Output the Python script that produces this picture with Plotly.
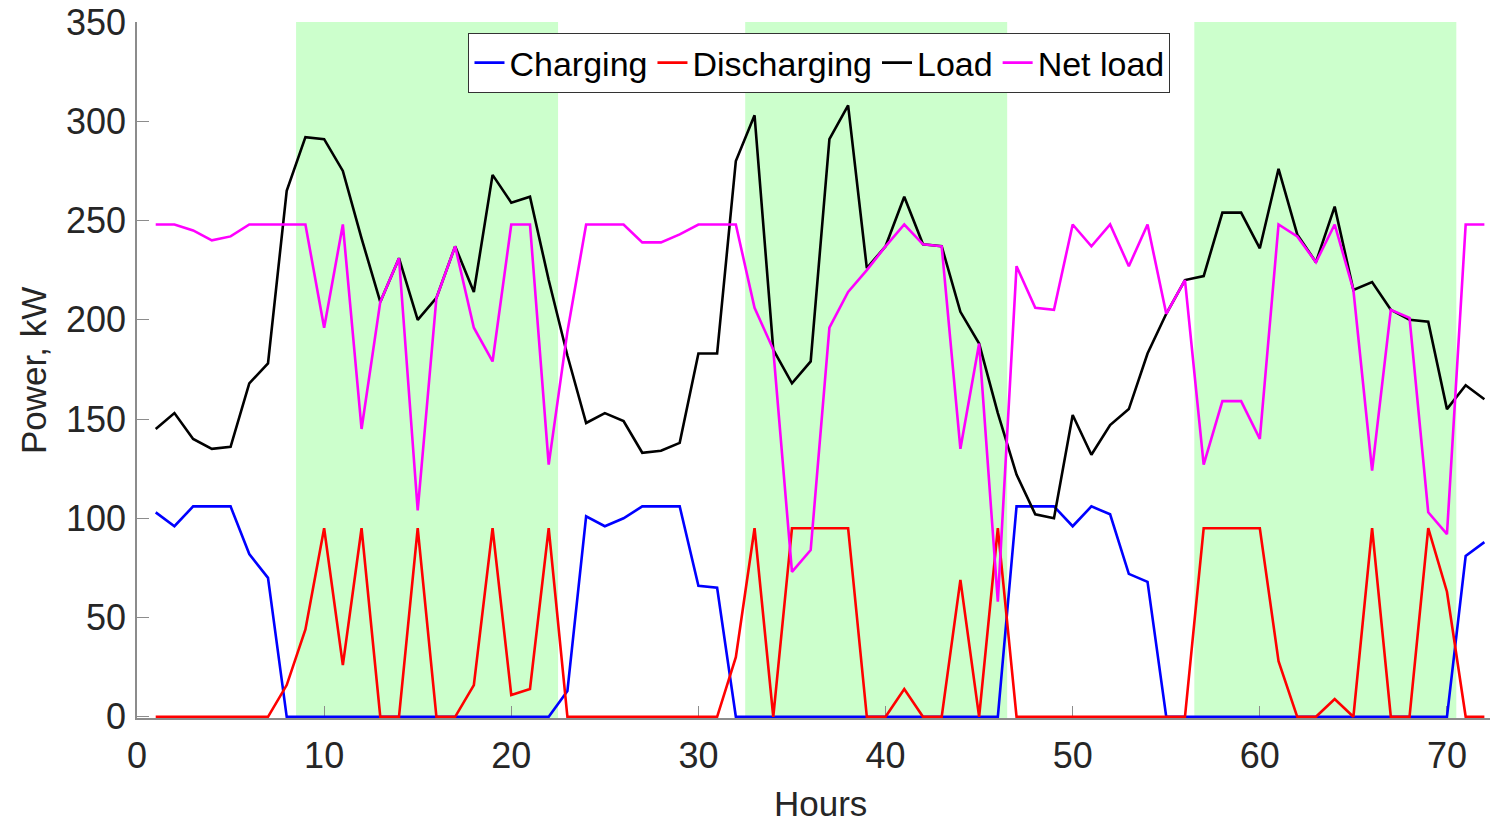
import plotly.graph_objects as go

# Hourly power profile over three days (hours 1..72), kW
hours = list(range(1, 73))

load = [145, 153, 140, 135, 136, 168, 178, 265, 292, 291, 275, 241,
        209, 231, 200, 211, 237, 214, 273, 259, 262, 220, 182, 148,
        153, 149, 133, 134, 138, 183, 183, 280, 303, 185, 168, 179,
        291, 308, 226, 237, 262, 238, 237, 204, 188, 153, 122, 102,
        100, 152, 132, 147, 155, 183, 203, 220, 222, 254, 254, 236,
        276, 243, 229, 257, 215, 219, 205, 200, 199, 155, 167, 160]

charging = [103, 96, 106, 106, 106, 82, 70, 0, 0, 0, 0, 0,
            0, 0, 0, 0, 0, 0, 0, 0, 0, 0, 13, 101,
            96, 100, 106, 106, 106, 66, 65, 0, 0, 0, 0, 0,
            0, 0, 0, 0, 0, 0, 0, 0, 0, 0, 106, 106,
            106, 96, 106, 102, 72, 68, 0, 0, 0, 0, 0, 0,
            0, 0, 0, 0, 0, 0, 0, 0, 0, 0, 81, 88]

discharging = [0, 0, 0, 0, 0, 0, 0, 16, 44, 95, 26, 95,
               0, 0, 95, 0, 0, 16, 95, 11, 14, 95, 0, 0,
               0, 0, 0, 0, 0, 0, 0, 30, 95, 0, 95, 95,
               95, 95, 0, 0, 14, 0, 0, 69, 0, 95, 0, 0,
               0, 0, 0, 0, 0, 0, 0, 0, 95, 95, 95, 95,
               28, 0, 0, 9, 0, 95, 0, 0, 95, 63, 0, 0]

net_load = [248, 248, 245, 240, 242, 248, 248, 248, 248, 196, 248, 145,
            209, 231, 104, 211, 237, 196, 179, 248, 248, 127, 194, 248,
            248, 248, 239, 239, 243, 248, 248, 248, 206, 185, 73, 84,
            196, 214, 225, 237, 248, 238, 237, 135, 188, 58, 227, 206,
            205, 248, 237, 248, 227, 248, 203, 220, 127, 159, 159, 140,
            248, 242, 229, 248, 215, 124, 205, 201, 103, 92, 248, 248]

# Peak-tariff windows highlighted in green (start, end hour)
peak_windows = [(8.5, 22.5), (32.5, 46.5), (56.5, 70.5)]

FONT = "Liberation Sans, Arial, sans-serif"
TEXT = "#262626"
AXIS = "#8c8c8c"

fig = go.Figure()

series = [
    ("Charging", charging, "#0000ff"),
    ("Discharging", discharging, "#ff0000"),
    ("Load", load, "#000000"),
    ("Net load", net_load, "#ff00ff"),
]
for name, vals, color in series:
    fig.add_trace(go.Scatter(
        x=hours, y=vals, mode="lines", name=name,
        line=dict(color=color, width=2.6),
    ))

for x0, x1 in peak_windows:
    fig.add_shape(type="rect", xref="x", yref="paper",
                  x0=x0, x1=x1, y0=0, y1=1,
                  fillcolor="#ccffcc", line=dict(width=0),
                  layer="between")

fig.update_layout(
    width=1490, height=827,
    margin=dict(l=137, r=0, t=22, b=109, autoexpand=False),
    paper_bgcolor="white", plot_bgcolor="white",
    font=dict(family=FONT, size=34, color=TEXT),
    showlegend=True,
    legend=dict(
        orientation="h", x=0.245, y=(718 - 33) / 696,
        xanchor="left", yanchor="top",
        bgcolor="white", bordercolor="#333333", borderwidth=1,
        font=dict(family=FONT, size=34, color="#000000"),
        itemwidth=30, tracegroupgap=0, itemclick=False,
    ),
    xaxis=dict(
        range=[0, 72.3], tickmode="array",
        tickvals=[0, 10, 20, 30, 40, 50, 60, 70],
        ticktext=["0", "10", "20", "30", "40", "50", "60", "70"],
        ticks="inside", ticklen=12, tickwidth=1, tickcolor=AXIS,
        showline=True, linecolor=AXIS, linewidth=1.5, mirror=False,
        showgrid=False, zeroline=False, layer="below traces",
        tickfont=dict(family=FONT, size=36, color=TEXT),
        ticklabelstandoff=5,
    ),
    yaxis=dict(
        range=[-0.6, 350], tickmode="array",
        tickvals=[0, 50, 100, 150, 200, 250, 300, 350],
        ticktext=["0", "50", "100", "150", "200", "250", "300", "350"],
        ticks="inside", ticklen=12, tickwidth=1, tickcolor=AXIS,
        showline=True, linecolor=AXIS, linewidth=1.5, mirror=False,
        showgrid=False, zeroline=False, layer="below traces",
        tickfont=dict(family=FONT, size=36, color=TEXT),
        ticklabelstandoff=2,
    ),
    annotations=[
        dict(text="Hours", xref="paper", yref="paper",
             x=(820 - 137) / 1353, y=-(803 - 718) / 696,
             xanchor="center", yanchor="middle", showarrow=False,
             font=dict(family=FONT, size=35, color=TEXT)),
        dict(text="Power, kW", xref="paper", yref="paper",
             x=-(137 - 33) / 1353, y=0.5, textangle=-90,
             xanchor="center", yanchor="middle", showarrow=False,
             font=dict(family=FONT, size=35, color=TEXT)),
    ],
)

fig.write_html("out.html")
